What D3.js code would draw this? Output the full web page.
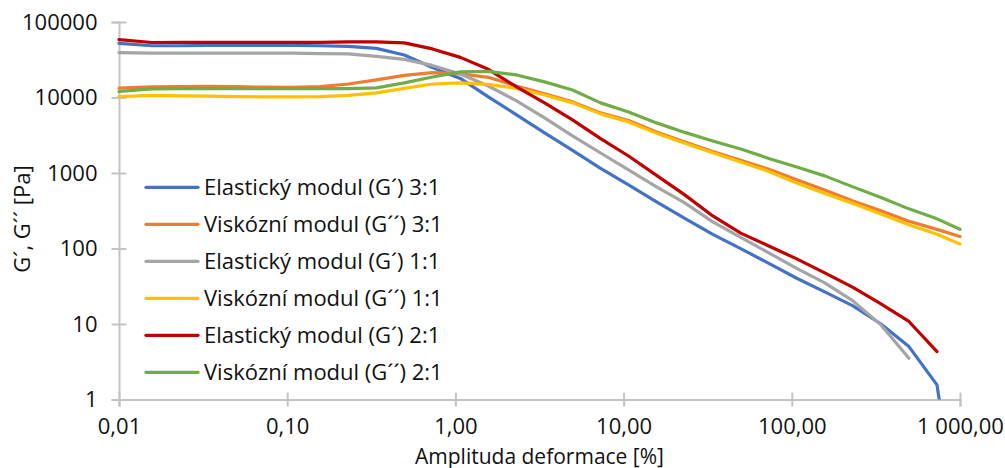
<!DOCTYPE html>
<html><head><meta charset="utf-8">
<script src="https://cdn.jsdelivr.net/npm/d3@7"></script>
<style>body{margin:0;background:#fff} text{font-family:"Open Sans", sans-serif; fill:#111}</style>
</head><body><svg id="c" width="1005" height="468"></svg>
<script>
// Amplituda deformace [%]
const strain = [0.01,0.0157,0.0231,0.0339,0.0497,0.073,0.107,0.157,0.231,0.339,0.497,0.73,1.07,1.57,2.31,3.39,4.97,7.3,10.7,15.7,23.1,33.9,49.7,73,107,157,231,339,497,730,1000];
const elastic31 = [52000,48500,48500,49000,49000,49000,49000,48500,47500,44700,36600,25000,17900,10200,5900,3400,2000,1150,695,414,250,154,99.7,63.5,40.4,26.6,17.4,10.0,5.02,1.56,0.015];
const visc31    = [13300,13800,13900,14000,13900,13700,13600,13900,15100,17100,19600,21300,20500,18500,14200,11200,8750,6250,4970,3500,2580,1930,1470,1120,811,597,427,315,229,179,144];
const elastic11 = [39300,38800,38800,38800,38800,38600,38600,38200,37800,35000,32000,26600,20500,14200,9020,5370,3100,1840,1100,655,402,225,140,87.5,54.5,35,20.2,9.73,3.52,null,null];
const visc11    = [10300,10700,10500,10400,10300,10200,10200,10300,10700,11500,13200,15100,15600,14900,13200,10800,8490,6070,4750,3350,2470,1850,1400,1050,739,537,396,287,206,154,115];
const elastic21 = [58500,53500,53700,53700,53700,53700,53700,53700,54500,54500,52900,44000,34000,23600,13800,8490,5060,2850,1680,929,513,270,160,108,72.8,47.5,30.5,18.5,10.8,4.31,null];
const visc21    = [12000,13000,13100,13100,13100,13100,13100,13100,13100,13400,15600,18700,21800,22200,19900,16100,12600,8490,6440,4610,3450,2660,2080,1560,1200,916,655,475,335,247,180];

const seriesNames = ["Elastický modul (G´) 3:1","Viskózní modul (G´´) 3:1","Elastický modul (G´) 1:1","Viskózní modul (G´´) 1:1","Elastický modul (G´) 2:1","Viskózní modul (G´´) 2:1"];
const seriesValues = [elastic31, visc31, elastic11, visc11, elastic21, visc21];
const seriesColors = ["#4472C4","#ED7D31","#A5A5A5","#FFC000","#C00000","#70AD47"];

const xTicks = [0.01,0.1,1,10,100,1000];
const xTickLabels = ["0,01","0,10","1,00","10,00","100,00","1 000,00"];
const yTicks = [1,10,100,1000,10000,100000];
const yTickLabels = ["1","10","100","1000","10000","100000"];
const xTitle = "Amplituda deformace [%]";
const yTitle = "G´, G´´ [Pa]";

const svg = d3.select("#c");
const L = 119, R = 960, T = 22, B = 399.5;
const x = d3.scaleLog().domain([0.01,1000]).range([L,R]);
const y = d3.scaleLog().domain([1,100000]).range([B,T]);
const axisColor = "#c4c4c4";
const fs = 22;
const ff = "Open Sans";

svg.append("defs").append("clipPath").attr("id","plot")
  .append("rect").attr("x",L-5).attr("y",T-10).attr("width",R-L+10).attr("height",B-T+10);

// Y axis
const ya = svg.append("g").attr("transform",`translate(${L},0)`)
  .call(d3.axisLeft(y).tickValues(yTicks).tickFormat((d,i)=>yTickLabels[i]).tickSize(7.5).tickPadding(14));
ya.select(".domain").attr("stroke",axisColor).attr("stroke-width",2);
ya.selectAll(".tick line").attr("stroke",axisColor).attr("stroke-width",2).attr("x2",-7.5).attr("x1",7.5);
ya.selectAll(".tick text").attr("font-size",fs).attr("font-family",ff).attr("fill","#111");

// X axis
const xa = svg.append("g").attr("transform",`translate(0,${B})`)
  .call(d3.axisBottom(x).tickValues(xTicks).tickFormat((d,i)=>xTickLabels[i]).tickSize(7).tickPadding(12));
xa.select(".domain").attr("stroke",axisColor).attr("stroke-width",2);
xa.selectAll(".tick line").attr("stroke",axisColor).attr("stroke-width",2).attr("y1",-7).attr("y2",7);
xa.selectAll(".tick text").attr("font-size",fs).attr("font-family",ff).attr("fill","#111");

// titles
svg.append("text").attr("x",(L+R)/2).attr("y",463.5).attr("text-anchor","middle").attr("font-size",21).text(xTitle);
svg.append("text").attr("transform",`translate(30,219) rotate(-90)`).attr("text-anchor","middle").attr("font-size",fs).text(yTitle);

// lines
const line = d3.line().defined(d=>d.v!=null).x(d=>x(d.s)).y(d=>y(d.v));
const pg = svg.append("g").attr("clip-path","url(#plot)");
seriesValues.forEach((vals,k)=>{
  const pts = strain.map((s,i)=>({s, v: vals[i]}));
  pg.append("path").datum(pts).attr("d",line).attr("fill","none")
    .attr("stroke",seriesColors[k]).attr("stroke-width",3.2)
    .attr("stroke-linejoin","round").attr("stroke-linecap","round");
});

// legend
const lg = svg.append("g");
seriesNames.forEach((n,k)=>{
  const yy = 187.3 + k*37;
  lg.append("line").attr("x1",146).attr("x2",198).attr("y1",yy).attr("y2",yy)
    .attr("stroke",seriesColors[k]).attr("stroke-width",3.2).attr("stroke-linecap","round");
  lg.append("text").attr("x",204).attr("y",yy).attr("dy","0.36em").attr("font-size",fs).text(n);
});
</script></body></html>
